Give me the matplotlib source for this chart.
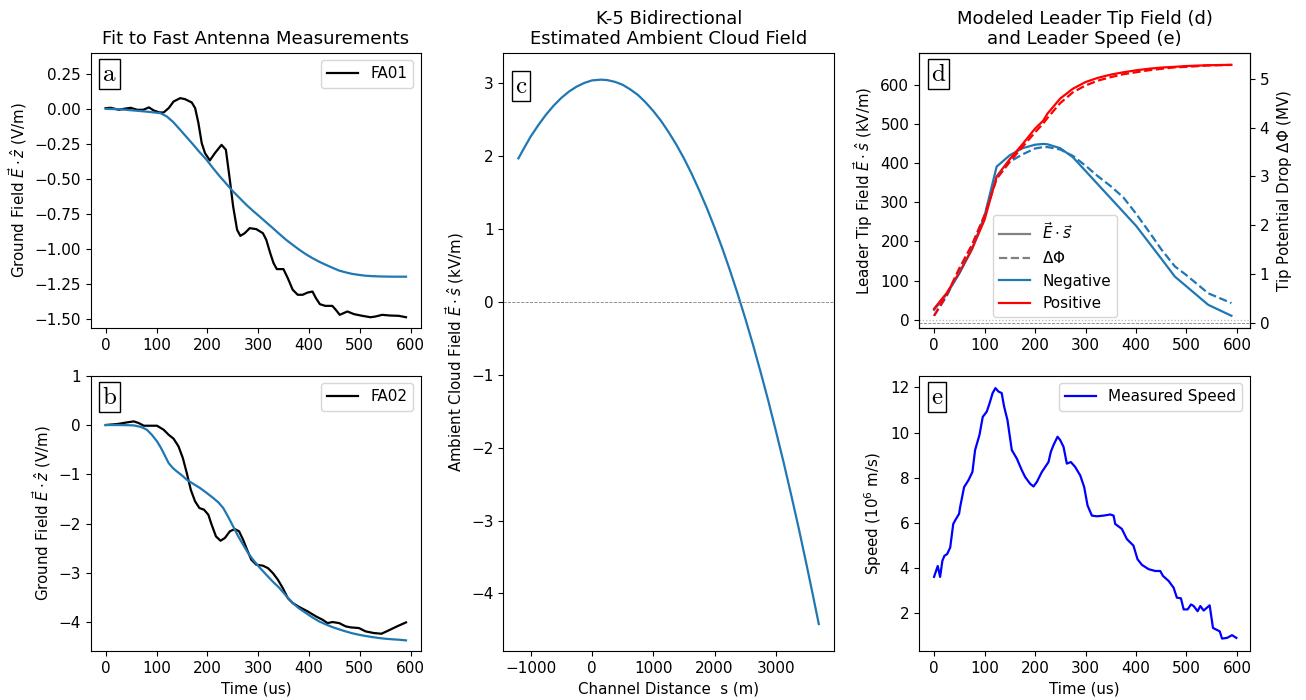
import numpy as np
import matplotlib
matplotlib.use('Agg')
import matplotlib.pyplot as plt

plt.rcParams['xtick.labelsize'] = 11
plt.rcParams['ytick.labelsize'] = 11
plt.rcParams['legend.fontsize'] = 11
plt.rcParams['axes.labelsize'] = 10.8
plt.rcParams['axes.titlesize'] = 13

# fast antenna FA01 (time in us, field in V/m)
fa01_t = [0, 10, 26, 36, 49, 62, 74, 85, 94.5, 106, 114, 124, 133.6, 146.6, 156, 169.4,
          176, 182.4, 189, 195.4, 205, 214.9, 228, 236.5, 244.3, 250.8, 258.6, 265, 273.6,
          283.4, 296.4, 309.4, 316, 323.8, 330.3, 336.8, 349.8, 358.3, 368, 377.9, 387.6,
          397.4, 407, 413.7, 421.5, 432, 446, 452.8, 460.6, 475.6, 488.6, 504.9, 521, 531,
          544, 560, 576.5, 591]
fa01_e = [0.005, 0.007, -0.007, 0.0, 0.007, -0.007, -0.007, 0.01, -0.012, -0.026, -0.026,
          0.005, 0.052, 0.076, 0.069, 0.045, 0.005, -0.10, -0.245, -0.316, -0.368, -0.316,
          -0.257, -0.292, -0.506, -0.696, -0.863, -0.906, -0.887, -0.851, -0.858, -0.887,
          -0.934, -1.029, -1.10, -1.143, -1.143, -1.207, -1.29, -1.326, -1.326, -1.31,
          -1.303, -1.35, -1.393, -1.405, -1.405, -1.433, -1.469, -1.445, -1.464, -1.476,
          -1.486, -1.481, -1.469, -1.474, -1.476, -1.486]
fit01_t = [0, 30, 55, 80, 107.5, 120.5, 133, 146.6, 160, 172.6, 185, 198.7, 211, 224.8, 238,
           250.8, 264, 276.9, 290, 302.9, 316, 329, 342, 355, 368, 381, 394, 407, 420, 433,
           446, 459, 472, 485, 498, 511, 524, 537, 550, 565, 578, 591]
fit01_e = [0.0, -0.004, -0.012, -0.02, -0.031, -0.055, -0.095, -0.15, -0.205, -0.257, -0.31,
           -0.364, -0.422, -0.483, -0.537, -0.59, -0.638, -0.685, -0.728, -0.768, -0.81,
           -0.851, -0.893, -0.934, -0.97, -1.005, -1.037, -1.065, -1.09, -1.112, -1.133,
           -1.153, -1.166, -1.177, -1.184, -1.19, -1.193, -1.195, -1.196, -1.197, -1.197,
           -1.197]

# fast antenna FA02
fa02_t = [0, 22.8, 42.3, 55.4, 65, 75, 88, 101, 114, 123.8, 133.6, 143.3, 151.8, 159.6,
          167.4, 175.9, 184.4, 193.5, 202, 208.5, 217, 226, 234.5, 244.3, 254, 262.5, 270.4,
          278.2, 286.6, 296.4, 309.4, 319.2, 329, 338.8, 348.5, 358.3, 368, 381, 397.4,
          413.7, 426.7, 436.5, 446.3, 459.3, 472.3, 482, 498.4, 511.4, 527.7, 542.7, 557,
          573.3, 591]
fa02_e = [0.0, 0.02, 0.054, 0.074, 0.04, -0.014, -0.014, -0.014, -0.095, -0.196, -0.277,
          -0.432, -0.669, -0.973, -1.31, -1.547, -1.682, -1.716, -1.818, -2.02, -2.257,
          -2.345, -2.29, -2.155, -2.108, -2.155, -2.324, -2.527, -2.73, -2.831, -2.851,
          -2.899, -3.0, -3.135, -3.304, -3.507, -3.608, -3.689, -3.777, -3.878, -3.946,
          -4.014, -3.993, -4.014, -4.081, -4.101, -4.115, -4.182, -4.216, -4.23, -4.162,
          -4.081, -4.0]
fit02_t = [0, 30, 55, 70, 81, 91, 101, 108, 114, 123.8, 132, 140, 150, 159.6, 172, 185.7,
           198, 211.7, 222, 231.3, 241, 250.8, 260, 270.4, 280, 290, 303, 316, 329, 342,
           355, 368, 381, 394, 407, 420, 433, 446, 459, 472, 485, 498, 511, 524, 537, 550,
           563, 576.5, 591]
fit02_e = [0.0, 0.0, -0.007, -0.04, -0.095, -0.2, -0.331, -0.45, -0.568, -0.77, -0.87,
           -0.94, -1.02, -1.108, -1.19, -1.277, -1.37, -1.48, -1.57, -1.682, -1.86, -2.054,
           -2.24, -2.426, -2.59, -2.73, -2.89, -3.034, -3.175, -3.304, -3.46, -3.608, -3.72,
           -3.81, -3.9, -3.98, -4.04, -4.095, -4.14, -4.182, -4.22, -4.25, -4.275, -4.297,
           -4.316, -4.331, -4.342, -4.351, -4.365]

# ambient cloud field along the channel
chan_s = [-1200, -1125, -1000, -875, -750, -625, -500, -375, -250, -125, 0, 150, 250, 375,
          500, 625, 750, 875, 1000, 1125, 1250, 1375, 1500, 1625, 1750, 1875, 2000, 2125,
          2250, 2375, 2500, 2625, 2750, 2875, 3000, 3125, 3250, 3375, 3500, 3600, 3700]
cloud_e = [1.97, 2.086, 2.27, 2.427, 2.57, 2.694, 2.80, 2.887, 2.955, 3.005, 3.04, 3.05,
           3.044, 3.02, 2.98, 2.916, 2.84, 2.738, 2.62, 2.486, 2.33, 2.16, 1.97, 1.76,
           1.53, 1.285, 1.02, 0.737, 0.435, 0.114, -0.225, -0.582, -0.96, -1.353, -1.77,
           -2.198, -2.65, -3.115, -3.605, -4.008, -4.42]

# modeled leader tip field (kV/m) and potential drop (MV)
tip_t = [0, 25, 50, 75, 100, 124, 150, 175, 200, 216, 225, 250, 275, 300, 325, 350, 375,
         400, 425, 450, 477, 500, 543, 589]
neg_field = [25, 65, 118, 180, 265, 391, 420, 438, 447, 449, 448, 438, 415, 380, 345, 310,
             275, 240, 198, 156, 110, 85, 38, 10]
pos_field = [28, 68, 120, 180, 255, 366, 410, 448, 488, 508, 527, 565, 590, 607, 618, 626,
             632, 637, 641, 644, 646, 648, 650, 651]
neg_dphi = [0.15, 0.55, 1.08, 1.58, 2.2, 2.98, 3.3, 3.45, 3.57, 3.6, 3.6, 3.55, 3.42, 3.22,
            3.0, 2.8, 2.57, 2.24, 1.88, 1.51, 1.16, 0.98, 0.61, 0.41]
pos_dphi = [0.15, 0.58, 1.12, 1.6, 2.2, 2.95, 3.3, 3.6, 3.9, 4.08, 4.2, 4.5, 4.72, 4.86,
            4.96, 5.03, 5.09, 5.13, 5.17, 5.2, 5.23, 5.24, 5.27, 5.28]

# measured leader speed (10^6 m/s)
spd_t = [0, 7.3, 12, 16.5, 20.5, 26, 32, 38, 41.6, 49.6, 51.6, 59.5, 68, 76, 81.3, 90, 96.5,
         104.4, 110, 116, 121.6, 127.6, 134, 138.8, 145.4, 154, 164, 173.8, 180.4, 190.3,
         197, 203.6, 213.5, 226.7, 231.3, 236.6, 244.6, 249.9, 256.5, 263, 271, 279.6,
         289.5, 297.4, 304, 312.6, 322.5, 335.8, 349, 355.6, 358.9, 372, 382, 395, 403,
         411.8, 425, 438.2, 448, 453.5, 464.6, 474.5, 481, 489, 494.4, 502.3, 508.9, 514.2,
         522, 527.4, 534, 545.9, 552.5, 565.8, 570.4, 580.3, 590.2, 598.8]
spd_v = [3.62, 4.1, 3.62, 4.33, 4.55, 4.63, 4.92, 5.96, 6.11, 6.41, 6.7, 7.59, 7.89, 8.26,
         9.23, 9.9, 10.7, 10.93, 11.3, 11.75, 11.97, 11.82, 11.75, 11.15, 10.56, 9.23, 8.85,
         8.34, 8.04, 7.74, 7.62, 7.82, 8.26, 8.7, 9.15, 9.45, 9.82, 9.67, 9.37, 8.63, 8.7,
         8.48, 8.11, 7.59, 6.78, 6.33, 6.3, 6.33, 6.38, 6.33, 5.96, 5.74, 5.29, 5.0, 4.4,
         4.15, 3.96, 3.88, 3.88, 3.66, 3.44, 3.14, 2.7, 2.67, 2.18, 2.18, 2.4, 2.33, 2.1,
         2.33, 2.13, 2.36, 1.36, 1.21, 0.89, 0.92, 1.04, 0.92]


def panel_tag(ax, letter):
    ax.text(0.035, 0.965, r'$\mathrm{%s}$' % letter, transform=ax.transAxes,
            ha='left', va='top', fontsize=18, math_fontfamily='cm',
            bbox=dict(boxstyle='square,pad=0.12', fc='white', ec='black', lw=1.0))


W, H = 1306, 700
fig = plt.figure(figsize=(W / 100, H / 100), dpi=100)


def axes_px(x0, x1, y0, y1):
    return fig.add_axes([x0 / W, 1 - y1 / H, (x1 - x0) / W, (y1 - y0) / H])


ax_a = axes_px(90.7, 421, 52.7, 328.3)
ax_b = axes_px(90.7, 421, 375.7, 651)
ax_c = axes_px(503.3, 834.3, 52.7, 651)
ax_d = axes_px(919, 1250, 52.7, 328.3)
ax_e = axes_px(919, 1250, 375.7, 651)

blue = '#1f77b4'
xlim_t = (-29.8, 625.8)

# a
ax_a.plot(fa01_t, fa01_e, color='black', lw=1.6, label='FA01')
ax_a.plot(fit01_t, fit01_e, color=blue, lw=1.6)
ax_a.set_xlim(-29.5, 620.5)
ax_a.set_ylim(-1.565, 0.40)
ax_a.set_ylabel(r'Ground Field $\vec{E}\cdot\hat{z}$ (V/m)')
ax_a.set_title('Fit to Fast Antenna Measurements')
ax_a.legend(loc='upper right')
panel_tag(ax_a, 'a')

# b
ax_b.plot(fa02_t, fa02_e, color='black', lw=1.6, label='FA02')
ax_b.plot(fit02_t, fit02_e, color=blue, lw=1.6)
ax_b.set_xlim(-29.5, 620.5)
ax_b.set_ylim(-4.58, 1.0)
ax_b.set_ylabel(r'Ground Field $\vec{E}\cdot\hat{z}$ (V/m)')
ax_b.set_xlabel('Time (us)')
ax_b.legend(loc='upper right')
panel_tag(ax_b, 'b')

# c
ax_c.plot(chan_s, cloud_e, color=blue, lw=1.6)
ax_c.axhline(0, color='gray', ls='--', lw=0.6)
ax_c.set_xlim(-1447, 3953)
ax_c.set_ylim(-4.79, 3.42)
ax_c.set_ylabel(r'Ambient Cloud Field $\vec{E}\cdot\hat{s}$ (kV/m)')
ax_c.set_xlabel('Channel Distance  s (m)')
ax_c.set_title('K-5 Bidirectional\nEstimated Ambient Cloud Field')
panel_tag(ax_c, 'c')

# d
ax_d2 = ax_d.twinx()
ax_d.plot(tip_t, neg_field, color=blue, lw=1.6)
ax_d.plot(tip_t, pos_field, color='red', lw=1.6)
ax_d2.plot(tip_t, neg_dphi, color=blue, lw=1.6, ls='--')
ax_d2.plot(tip_t, pos_dphi, color='red', lw=1.6, ls='--')
ax_d.axhline(0, color='0.7', ls=':', lw=0.9)
ax_d2.axhline(0, color='0.5', ls='--', lw=0.6)
ax_d.set_xlim(*xlim_t)
ax_d.set_ylim(-22, 682)
ax_d2.set_ylim(-0.106, 5.53)
ax_d.set_ylabel(r'Leader Tip Field $\vec{E}\cdot\hat{s}$ (kV/m)')
ax_d2.set_ylabel(r'Tip Potential Drop $\Delta\Phi$ (MV)')
ax_d.set_title('Modeled Leader Tip Field (d)\nand Leader Speed (e)')
handles = [plt.Line2D([], [], color='gray', lw=1.6),
           plt.Line2D([], [], color='gray', lw=1.6, ls='--'),
           plt.Line2D([], [], color=blue, lw=1.6),
           plt.Line2D([], [], color='red', lw=1.6)]
ax_d2.legend(handles, [r'$\vec{E}\cdot\vec{s}$', r'$\Delta\Phi$', 'Negative', 'Positive'],
             loc='lower left', bbox_to_anchor=(0.224, 0.04), borderaxespad=0)
panel_tag(ax_d2, 'd')

# e
ax_e.plot(spd_t, spd_v, color='blue', lw=1.6, label='Measured Speed')
ax_e.set_xlim(*xlim_t)
ax_e.set_ylim(0.34, 12.52)
ax_e.set_ylabel(r'Speed ($10^6$ m/s)')
ax_e.set_xlabel('Time (us)')
ax_e.legend(loc='upper right')
panel_tag(ax_e, 'e')

fig.savefig('out.png', dpi=100)
